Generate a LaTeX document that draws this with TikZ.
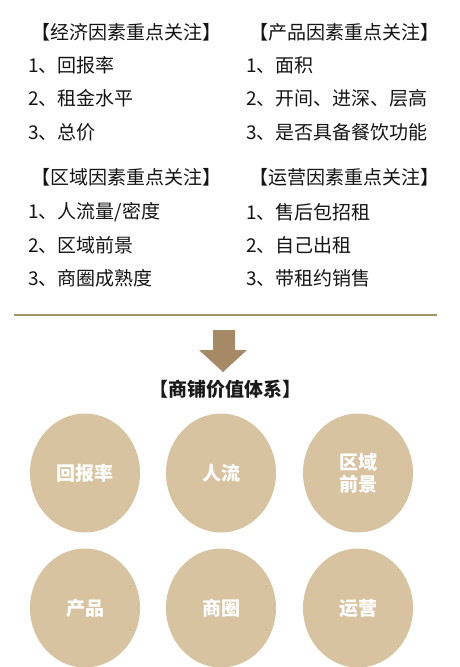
\documentclass[tikz,border=0pt]{standalone}
\usepackage{fontspec}
\setmainfont{Noto Sans CJK SC}
\usepackage{xcolor}
\usepackage{tikz}
\usetikzlibrary{shapes.geometric,positioning}

\definecolor{shopbeige}{HTML}{D7C39F}
\definecolor{ruleolive}{HTML}{A39468}
\definecolor{arrowbrown}{HTML}{A68A66}

\begin{document}
\begin{tikzpicture}[x=1pt,y=-1pt,
  every node/.style={font=\fontsize{19}{21}\selectfont, text=black!92, inner sep=0pt},
  head/.style={anchor=west},
  item/.style={anchor=west},
  disc/.style={ellipse, fill=shopbeige, minimum width=110pt, minimum height=119pt,
    text=white, align=center, font=\fontsize{19}{22}\selectfont\bfseries}]
\useasboundingbox (0,0) rectangle (459,667);

% four groups of factors
\node[head] (ecoH) at (31,32) {【经济因素重点关注】};
\node[head] (proH) at (249,32) {【产品因素重点关注】};
\node[head] (regH) at (31,177) {【区域因素重点关注】};
\node[head] (opeH) at (249,177) {【运营因素重点关注】};

\foreach \i/\y/\t in {1/65/回报率,2/98/租金水平,3/132/总价}
  \node[item] (eco\i) at (28,\y) {\i、\t};
\foreach \i/\y/\t in {1/65/面积,2/98/开间、进深、层高,3/132/是否具备餐饮功能}
  \node[item] (pro\i) at (246,\y) {\i、\t};
\foreach \i/\y/\t in {1/212/{人流量/密度},2/245/区域前景,3/278/商圈成熟度}
  \node[item] (reg\i) at (28,\y) {\i、\t};
\foreach \i/\y/\t in {1/212/售后包招租,2/245/自己出租,3/278/带租约销售}
  \node[item] (ope\i) at (246,\y) {\i、\t};

% divider and arrow
\coordinate (ruleL) at (14,315);
\coordinate (ruleR) at (437,315);
\draw[ruleolive, line width=2pt] (ruleL) -- (ruleR);
\fill[arrowbrown] (213,330) -- (235,330) -- (235,350) -- (247,350) -- (223,372)
  -- (199,350) -- (213,350) -- cycle;

\node[font=\fontsize{19}{21}\selectfont\bfseries, text=black!90] (sys) at (225,389) {【商铺价值体系】};

% value circles
\foreach \n/\x/\y/\t in {hb/85/473/回报率, rl/221/473/人流, qy/358/473/{区域\\前景},
  cp/85/608/产品, sq/221/608/商圈, yy/358/608/运营}
  \node[disc] (\n) at (\x,\y) {\t};
\end{tikzpicture}
\end{document}
